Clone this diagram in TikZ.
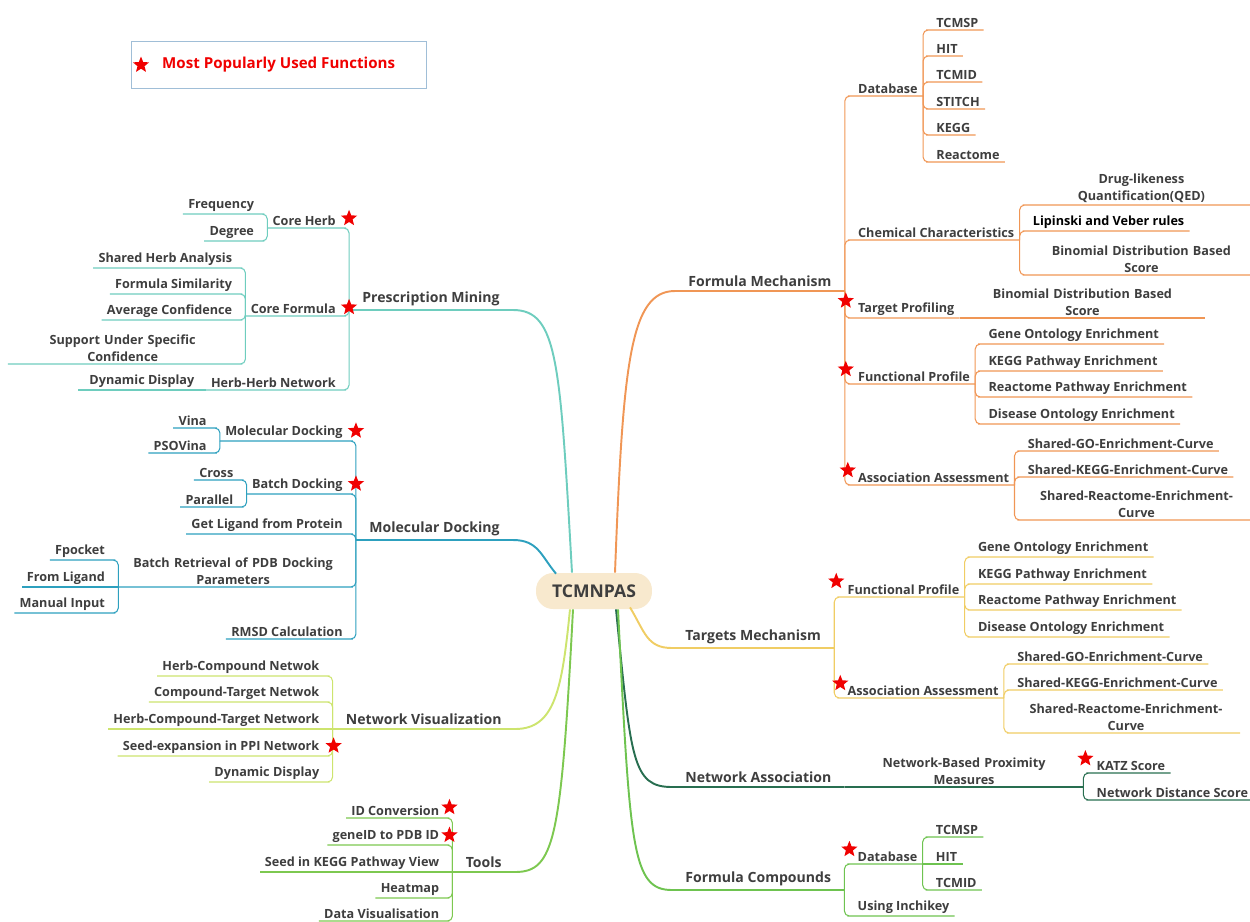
\documentclass[tikz,border=0pt]{standalone}
\usepackage{fontspec}
\setmainfont{Open Sans}
\usetikzlibrary{calc,shapes.geometric}

\definecolor{txtgray}{RGB}{62,62,62}
\definecolor{rootfill}{RGB}{248,233,206}
\definecolor{pmteal}{RGB}{110,205,190}
\definecolor{mdblue}{RGB}{45,160,190}
\definecolor{nvlime}{RGB}{205,228,110}
\definecolor{tlgreen}{RGB}{125,200,80}
\definecolor{fmorange}{RGB}{240,150,85}
\definecolor{tmyellow}{RGB}{240,205,100}
\definecolor{nagreen}{RGB}{40,110,80}
\definecolor{fcgreen}{RGB}{110,195,80}
\definecolor{legendline}{RGB}{160,190,215}
\definecolor{favred}{RGB}{240,0,0}

\newcommand{\leaffont}{\fontsize{7.2}{9.6}\selectfont\bfseries}
\newcommand{\branchfont}{\fontsize{8}{10}\selectfont\bfseries}
\newcommand{\rootfont}{\fontsize{10}{12}\selectfont\bfseries}

\tikzset{
  lf/.style={anchor=south west, inner xsep=0.1cm, inner ysep=0.05cm, font=\leaffont, text=txtgray},
  rt/.style={lf, anchor=south east},
  brr/.style={anchor=south west, inner xsep=0.26cm, inner ysep=0.08cm, font=\branchfont, text=txtgray},
  brl/.style={brr, anchor=south east},
  fav/.style={star, star points=5, star point ratio=2.3, fill=favred, minimum size=0.34cm, inner sep=0pt},
  link/.style={rounded corners=0.1cm, line width=0.6pt},
  trunk/.style={line width=1.1pt},
}

\begin{document}
\begin{tikzpicture}[x=0.02cm, y=-0.02cm]
\useasboundingbox (0,0) rectangle (1250,921);

% legend
\node[draw=legendline, line width=0.5pt, minimum width=5.9cm, minimum height=0.94cm, inner sep=0pt] (legend) at (278.5,64.5) {};
\node[fav] (legstar) at (141,65) {};
\node[anchor=west, font=\fontsize{8.6}{10}\selectfont\bfseries, text=favred] (legtext) at (156,65) {Most Popularly Used Functions};

% centre
\node[fill=rootfill, rounded corners=0.34cm, minimum width=2.32cm, minimum height=0.72cm, font=\rootfont, text=txtgray] (root) at (594,591) {TCMNPAS};

% main branches
\node[brl] (pm) at (513,310) {Prescription Mining};
\node[brl] (md) at (513,540) {Molecular Docking};
\node[brl] (nv) at (515,729) {Network Visualization};
\node[brl] (tl) at (515,872) {Tools};
\node[brr] (fm) at (675,291) {Formula Mechanism};
\node[brr] (tm) at (672,648) {Targets Mechanism};
\node[brr] (na) at (672,787) {Network Association};
\node[brr] (fc) at (672,890) {Formula Compounds};

% Prescription Mining
\coordinate (pmj) at ($(pm.south west)+(-8,0)$);
\node[rt] (pch) at (pmj |- 0,228) {Core Herb};
\node[rt] (pcf) at (pmj |- 0,316) {Core Formula};
\node[rt] (phh) at (pmj |- 0,390) {Herb-Herb Network};
\coordinate (pchj) at ($(pch.south west)+(-8,0)$);
\node[rt] (pch1) at (pchj |- 0,214) {Frequency};
\node[rt] (pch2) at (pchj |- 0,241) {Degree};
\coordinate (pcfj) at ($(pcf.south west)+(-8,0)$);
\foreach \t/\y [count=\i] in {Shared Herb Analysis/268, Formula Similarity/294, Average Confidence/320}
  \node[rt] (pcf\i) at (pcfj |- 0,\y) {\t};
\node[rt, text width=4.38cm, align=center] (pcf4) at (pcfj |- 0,364) {Support Under Specific\\Confidence};
\node[rt, minimum width=2.54cm] (phh1) at (phh.south west) {Dynamic Display};

% Molecular Docking
\coordinate (mdj) at ($(md.south west)+(-8,0)$);
\node[rt] (mmd) at (mdj |- 0,441) {Molecular Docking};
\node[rt] (mbd) at (mdj |- 0,494) {Batch Docking};
\node[rt] (mgl) at (mdj |- 0,534) {Get Ligand from Protein};
\node[rt, text width=4.38cm, align=center] (mbr) at (mdj |- 0,587) {Batch Retrieval of PDB Docking\\Parameters};
\node[rt] (mrm) at (mdj |- 0,639) {RMSD Calculation};
\coordinate (mmdj) at ($(mmd.south west)+(-8,0)$);
\node[rt] (mmd1) at (mmdj |- 0,428) {Vina};
\node[rt] (mmd2) at (mmdj |- 0,453) {PSOVina};
\coordinate (mbdj) at ($(mbd.south west)+(-8,0)$);
\node[rt] (mbd1) at (mbdj |- 0,480) {Cross};
\node[rt] (mbd2) at (mbdj |- 0,507) {Parallel};
\coordinate (mbrj) at ($(mbr.south west)+(-8,0)$);
\foreach \t/\y [count=\i] in {Fpocket/560, From Ligand/587, Manual Input/613}
  \node[rt] (mbr\i) at (mbrj |- 0,\y) {\t};

% Network Visualization
\coordinate (nvj) at ($(nv.south west)+(-8,0)$);
\foreach \t/\y [count=\i] in {Herb-Compound Netwok/676, Compound-Target Netwok/702, Herb-Compound-Target Network/729, Seed-expansion in PPI Network/756, Dynamic Display/782}
  \node[rt] (nv\i) at (nvj |- 0,\y) {\t};

% Tools
\coordinate (tlj) at ($(tl.south west)+(-8,0)$);
\foreach \t/\y [count=\i] in {ID Conversion/818, geneID to PDB ID/845, Seed in KEGG Pathway View/872, Heatmap/898, Data Visualisation/921}
  \node[rt] (tl\i) at (tlj |- 0,\y) {\t};

% Formula Mechanism
\coordinate (fmj) at ($(fm.south east)+(8,0)$);
\node[lf] (fdb) at (fmj |- 0,96) {Database};
\node[lf] (fcc) at (fmj |- 0,240) {Chemical Characteristics};
\node[lf] (ftp) at (fmj |- 0,318) {Target Profiling};
\node[lf] (ffp) at (fmj |- 0,384) {Functional Profile};
\node[lf] (faa) at (fmj |- 0,485) {Association Assessment};
\coordinate (fdbj) at ($(fdb.south east)+(8,0)$);
\foreach \t/\y [count=\i] in {TCMSP/30, HIT/56, TCMID/82, STITCH/109, KEGG/135, Reactome/162}
  \node[lf] (fdb\i) at (fdbj |- 0,\y) {\t};
\coordinate (fccj) at ($(fcc.south east)+(8,0)$);
\node[lf, text width=4.34cm, align=center] (fcc1) at (fccj |- 0,205) {Drug-likeness\\Quantification(QED)};
\node[lf, text=black] (fcc2) at (fccj |- 0,231) {Lipinski and Veber rules};
\node[lf, text width=4.34cm, align=center] (fcc3) at (fccj |- 0,275) {Binomial Distribution Based\\Score};
\node[lf, text width=4.7cm, align=center] (ftp1) at (ftp.south east) {Binomial Distribution Based\\Score};
\coordinate (ffpj) at ($(ffp.south east)+(8,0)$);
\foreach \t/\y [count=\i] in {Gene Ontology Enrichment/344, KEGG Pathway Enrichment/371, Reactome Pathway Enrichment/397, Disease Ontology Enrichment/424}
  \node[lf] (ffp\i) at (ffpj |- 0,\y) {\t};
\coordinate (faaj) at ($(faa.south east)+(8,0)$);
\node[lf] (faa1) at (faaj |- 0,451) {Shared-GO-Enrichment-Curve};
\node[lf] (faa2) at (faaj |- 0,477) {Shared-KEGG-Enrichment-Curve};
\node[lf, text width=4.35cm, align=center] (faa3) at (faaj |- 0,520) {Shared-Reactome-Enrichment-\\Curve};

% Targets Mechanism
\coordinate (tmj) at ($(tm.south east)+(8,0)$);
\node[lf] (tfp) at (tmj |- 0,597) {Functional Profile};
\node[lf] (taa) at (tmj |- 0,698) {Association Assessment};
\coordinate (tfpj) at ($(tfp.south east)+(8,0)$);
\foreach \t/\y [count=\i] in {Gene Ontology Enrichment/557, KEGG Pathway Enrichment/584, Reactome Pathway Enrichment/610, Disease Ontology Enrichment/637}
  \node[lf] (tfp\i) at (tfpj |- 0,\y) {\t};
\coordinate (taaj) at ($(taa.south east)+(8,0)$);
\node[lf] (taa1) at (taaj |- 0,664) {Shared-GO-Enrichment-Curve};
\node[lf] (taa2) at (taaj |- 0,690) {Shared-KEGG-Enrichment-Curve};
\node[lf, text width=4.35cm, align=center] (taa3) at (taaj |- 0,733) {Shared-Reactome-Enrichment-\\Curve};

% Network Association
\node[lf, text width=4.56cm, align=center] (nbp) at (na.south east) {Network-Based Proximity\\Measures};
\coordinate (nbpj) at ($(nbp.south east)+(8,0)$);
\node[lf] (nbp1) at (nbpj |- 0,773) {KATZ Score};
\node[lf] (nbp2) at (nbpj |- 0,800) {Network Distance Score};

% Formula Compounds
\coordinate (fcj) at ($(fc.south east)+(8,0)$);
\node[lf] (cdb) at (fcj |- 0,864) {Database};
\node[lf] (cui) at (fcj |- 0,916) {Using Inchikey};
\coordinate (cdbj) at ($(cdb.south east)+(8,0)$);
\foreach \t/\y [count=\i] in {TCMSP/837, HIT/864, TCMID/890}
  \node[lf] (cdb\i) at (cdbj |- 0,\y) {\t};

% branches from the centre
\draw[trunk, pmteal] ($(root.north)+(-22,0)$) .. controls +(-12,-210) and +(45,0) .. (pm.south east) -- (pm.south west);
\draw[trunk, mdblue] ($(root.north)+(-38,1)$) .. controls +(-15,-18) and +(25,0) .. (md.south east) -- (md.south west);
\draw[trunk, nvlime] ($(root.south)+(-24,0)$) .. controls +(-8,80) and +(40,0) .. (nv.south east) -- (nv.south west);
\draw[trunk, tlgreen] ($(root.south)+(-21,0)$) .. controls +(-12,230) and +(40,0) .. (tl.south east) -- (tl.south west);
\draw[trunk, fmorange] ($(root.north)+(21,0)$) .. controls +(8,-210) and +(-45,0) .. (fm.south west) -- (fm.south east);
\draw[trunk, tmyellow] ($(root.south)+(36,-2)$) .. controls +(15,25) and +(-25,0) .. (tm.south west) -- (tm.south east);
\draw[trunk, nagreen] ($(root.south)+(22,0)$) .. controls +(15,150) and +(-40,0) .. (na.south west) -- (na.south east);
\draw[trunk, fcgreen] ($(root.south)+(24,0)$) .. controls +(12,240) and +(-40,0) .. (fc.south west) -- (fc.south east);

% left connectors
\foreach \k in {pch,pcf,phh}
  \draw[link, pmteal] (pm.south west) |- (\k.south east) -- (\k.south west);
\foreach \k in {pch1,pch2}
  \draw[link, pmteal] (pch.south west) |- (\k.south east) -- (\k.south west);
\foreach \k in {pcf1,pcf2,pcf3,pcf4}
  \draw[link, pmteal] (pcf.south west) |- (\k.south east) -- (\k.south west);
\draw[link, pmteal] (phh.south west) -- (phh1.south west);
\foreach \k in {mmd,mbd,mgl,mbr,mrm}
  \draw[link, mdblue] (md.south west) |- (\k.south east) -- (\k.south west);
\foreach \k in {mmd1,mmd2}
  \draw[link, mdblue] (mmd.south west) |- (\k.south east) -- (\k.south west);
\foreach \k in {mbd1,mbd2}
  \draw[link, mdblue] (mbd.south west) |- (\k.south east) -- (\k.south west);
\foreach \k in {mbr1,mbr3}
  \draw[link, mdblue] (mbr.south west) |- (\k.south east) -- (\k.south west);
\draw[link, mdblue] (mbr.south west) -- (mbr2.south west);
\foreach \k in {nv1,nv2,nv4,nv5}
  \draw[link, nvlime] (nv.south west) |- (\k.south east) -- (\k.south west);
\draw[link, nvlime] (nv.south west) -- (nv3.south west);
\foreach \k in {tl1,tl2,tl4,tl5}
  \draw[link, tlgreen] (tl.south west) |- (\k.south east) -- (\k.south west);
\draw[link, tlgreen] (tl.south west) -- (tl3.south west);

% right connectors
\foreach \k in {fdb,fcc,ftp,ffp,faa}
  \draw[link, fmorange] (fm.south east) |- (\k.south west) -- (\k.south east);
\foreach \k in {fdb1,fdb2,fdb3,fdb4,fdb5,fdb6}
  \draw[link, fmorange] (fdb.south east) |- (\k.south west) -- (\k.south east);
\foreach \k in {fcc1,fcc2,fcc3}
  \draw[link, fmorange] (fcc.south east) |- (\k.south west) -- (\k.south east);
\draw[link, fmorange] (ftp.south east) -- (ftp1.south east);
\foreach \k in {ffp1,ffp2,ffp3,ffp4}
  \draw[link, fmorange] (ffp.south east) |- (\k.south west) -- (\k.south east);
\foreach \k in {faa1,faa2,faa3}
  \draw[link, fmorange] (faa.south east) |- (\k.south west) -- (\k.south east);
\foreach \k in {tfp,taa}
  \draw[link, tmyellow] (tm.south east) |- (\k.south west) -- (\k.south east);
\foreach \k in {tfp1,tfp2,tfp3,tfp4}
  \draw[link, tmyellow] (tfp.south east) |- (\k.south west) -- (\k.south east);
\foreach \k in {taa1,taa2,taa3}
  \draw[link, tmyellow] (taa.south east) |- (\k.south west) -- (\k.south east);
\draw[link, nagreen] (na.south east) -- (nbp.south east);
\foreach \k in {nbp1,nbp2}
  \draw[link, nagreen] (nbp.south east) |- (\k.south west) -- (\k.south east);
\foreach \k in {cdb,cui}
  \draw[link, fcgreen] (fc.south east) |- (\k.south west) -- (\k.south east);
\foreach \k in {cdb1,cdb3}
  \draw[link, fcgreen] (cdb.south east) |- (\k.south west) -- (\k.south east);
\draw[link, fcgreen] (cdb.south east) -- (cdb2.south east);

% favourites
\node[fav] (s1) at ($(pch.east)+(8,-2)$) {};
\node[fav] (s2) at ($(pcf.east)+(8,-1)$) {};
\node[fav] (s3) at ($(mmd.east)+(8,-1)$) {};
\node[fav] (s4) at ($(mbd.east)+(8,-1)$) {};
\node[fav] (s5) at ($(nv4.east)+(9,-1)$) {};
\node[fav] (s6) at ($(tl1.east)+(5,-3)$) {};
\node[fav] (s7) at ($(tl2.east)+(5,-1)$) {};
\node[fav] (s8) at ($(ftp.west)+(-7,-8)$) {};
\node[fav] (s9) at ($(ffp.west)+(-7,-7)$) {};
\node[fav] (s10) at ($(faa.west)+(-5,-7)$) {};
\node[fav] (s11) at ($(tfp.west)+(-6,-8)$) {};
\node[fav] (s12) at ($(taa.west)+(-2,-7)$) {};
\node[fav] (s13) at ($(nbp1.west)+(-6,-7)$) {};
\node[fav] (s14) at ($(cdb.west)+(-3,-7)$) {};
\end{tikzpicture}
\end{document}
